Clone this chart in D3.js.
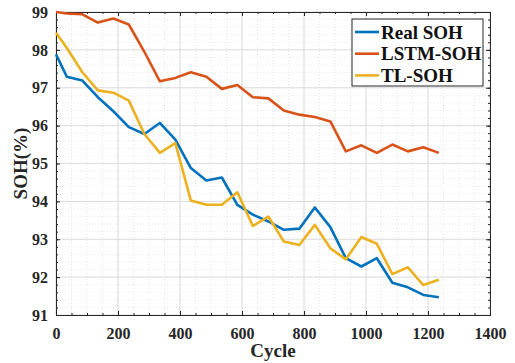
<!DOCTYPE html>
<html>
<head>
<meta charset="utf-8">
<script src="https://cdn.jsdelivr.net/npm/d3@7"></script>
<style>
  body { margin: 0; background: #fff; }
  svg { display: block; }
  .tick text { font-family: "Liberation Serif", "Times New Roman", serif; font-weight: bold; }
</style>
</head>
<body>
<div id="chart"></div>
<script>
// cycle numbers of the samples
const cycles = [0, 35, 85, 135, 185, 235, 285, 335, 385, 435, 485, 535, 585,
  635, 685, 735, 785, 835, 885, 935, 985, 1035, 1085, 1135, 1185, 1235];

const realSOH = [97.88, 97.29, 97.19, 96.75, 96.38, 95.96, 95.78, 96.07, 95.63,
  94.88, 94.55, 94.63, 93.91, 93.65, 93.47, 93.25, 93.28, 93.84, 93.32, 92.5,
  92.28, 92.5, 91.85, 91.73, 91.53, 91.47];

const lstmSOH = [99.0, 98.96, 98.94, 98.72, 98.83, 98.67, 97.95, 97.17, 97.26,
  97.41, 97.29, 96.97, 97.07, 96.75, 96.72, 96.4, 96.29, 96.23, 96.11, 95.32,
  95.48, 95.28, 95.5, 95.32, 95.43, 95.28];

const tlSOH = [98.45, 98.05, 97.41, 96.93, 96.87, 96.66, 95.78, 95.28, 95.54,
  94.02, 93.91, 93.91, 94.24, 93.35, 93.6, 92.94, 92.85, 93.38, 92.76, 92.47,
  93.06, 92.88, 92.08, 92.26, 91.79, 91.93];

const seriesNames = ["Real SOH", "LSTM-SOH", "TL-SOH"];
const seriesColors = ["#0072BD", "#D95319", "#EDB120"];
const xTicks = [0, 200, 400, 600, 800, 1000, 1200, 1400];
const yTicks = [91, 92, 93, 94, 95, 96, 97, 98, 99];

const width = 515, height = 363;
const margin = { top: 12, right: 25, bottom: 48, left: 56 };
const innerW = width - margin.left - margin.right;
const innerH = height - margin.top - margin.bottom;

const svg = d3.select("#chart").append("svg")
  .attr("width", width)
  .attr("height", height);

const g = svg.append("g")
  .attr("transform", `translate(${margin.left},${margin.top})`);

const x = d3.scaleLinear().domain([0, 1400]).range([0, innerW]);
const y = d3.scaleLinear().domain([91, 99]).range([innerH, 0]);

const xMinor = d3.range(0, 1401, 50);
const yMinor = d3.range(91, 99.001, 0.2);

// minor grid (dotted)
g.append("g").selectAll("line")
  .data(xMinor)
  .enter().append("line")
    .attr("x1", d => x(d)).attr("x2", d => x(d))
    .attr("y1", 0).attr("y2", innerH)
    .attr("stroke", "#e4e4e4").attr("stroke-dasharray", "1,2");
g.append("g").selectAll("line")
  .data(yMinor)
  .enter().append("line")
    .attr("y1", d => y(d)).attr("y2", d => y(d))
    .attr("x1", 0).attr("x2", innerW)
    .attr("stroke", "#ececec").attr("stroke-dasharray", "1,2");

// major grid
g.append("g").selectAll("line")
  .data(xTicks)
  .enter().append("line")
    .attr("x1", d => x(d)).attr("x2", d => x(d))
    .attr("y1", 0).attr("y2", innerH)
    .attr("stroke", "#dcdcdc");
g.append("g").selectAll("line")
  .data(yTicks)
  .enter().append("line")
    .attr("y1", d => y(d)).attr("y2", d => y(d))
    .attr("x1", 0).attr("x2", innerW)
    .attr("stroke", "#dcdcdc");

// axes, ticks pointing inward
function styleAxis(sel) {
  sel.select(".domain").attr("stroke", "#262626");
  sel.selectAll(".tick line").attr("stroke", "#262626");
  sel.selectAll(".tick text").attr("fill", "#262626").style("font-size", "16px");
}

g.append("g")
  .attr("transform", `translate(0,${innerH})`)
  .call(d3.axisBottom(x).tickValues(xTicks).tickSize(-4).tickPadding(13).tickFormat(d3.format("d")))
  .call(styleAxis);
g.append("g")
  .attr("transform", `translate(0,${innerH})`)
  .call(d3.axisBottom(x).tickValues(xMinor).tickSize(-2).tickFormat(""))
  .call(styleAxis);
g.append("g")
  .call(d3.axisLeft(y).tickValues(yTicks).tickSize(-4).tickPadding(8).tickFormat(d3.format("d")))
  .call(styleAxis);
g.append("g")
  .call(d3.axisLeft(y).tickValues(yMinor).tickSize(-2).tickFormat(""))
  .call(styleAxis);
g.append("g")
  .call(d3.axisTop(x).tickValues(xTicks).tickSize(-4).tickFormat(""))
  .call(styleAxis);
g.append("g")
  .call(d3.axisTop(x).tickValues(xMinor).tickSize(-2).tickFormat(""))
  .call(styleAxis);
g.append("g")
  .attr("transform", `translate(${innerW},0)`)
  .call(d3.axisRight(y).tickValues(yTicks).tickSize(-4).tickFormat(""))
  .call(styleAxis);
g.append("g")
  .attr("transform", `translate(${innerW},0)`)
  .call(d3.axisRight(y).tickValues(yMinor).tickSize(-2).tickFormat(""))
  .call(styleAxis);

// lines
const line = d3.line()
  .x((d, i) => x(cycles[i]))
  .y(d => y(d));

[realSOH, lstmSOH, tlSOH].forEach((s, i) => {
  g.append("path")
    .datum(s)
    .attr("fill", "none")
    .attr("stroke", seriesColors[i])
    .attr("stroke-width", 2.6)
    .attr("stroke-linejoin", "round")
    .attr("d", line);
});

// axis titles
svg.append("text")
  .attr("x", margin.left + innerW / 2)
  .attr("y", 357)
  .attr("text-anchor", "middle")
  .style("font-family", "Liberation Serif, Times New Roman, serif")
  .style("font-weight", "bold")
  .style("font-size", "19px")
  .attr("fill", "#262626")
  .text("Cycle");

svg.append("text")
  .attr("transform", `translate(27,${margin.top + innerH / 2}) rotate(-90)`)
  .attr("text-anchor", "middle")
  .style("font-family", "Liberation Serif, Times New Roman, serif")
  .style("font-weight", "bold")
  .style("font-size", "19px")
  .attr("fill", "#262626")
  .text("SOH(%)");

// legend
const legend = g.append("g")
  .attr("transform", `translate(${352 - margin.left},${19 - margin.top})`);
legend.append("rect")
  .attr("width", 131).attr("height", 67)
  .attr("fill", "#fff").attr("stroke", "#262626").attr("stroke-width", 1);
seriesNames.forEach((name, i) => {
  const row = legend.append("g").attr("transform", `translate(0,${13 + i * 21.7})`);
  row.append("line")
    .attr("x1", 3).attr("x2", 27)
    .attr("stroke", seriesColors[i]).attr("stroke-width", 2.6);
  row.append("text")
    .attr("x", 29).attr("dy", "0.35em")
    .style("font-family", "Liberation Serif, Times New Roman, serif")
    .style("font-weight", "bold")
    .style("font-size", "19px")
    .attr("fill", "#111")
    .text(name);
});
</script>
</body>
</html>
